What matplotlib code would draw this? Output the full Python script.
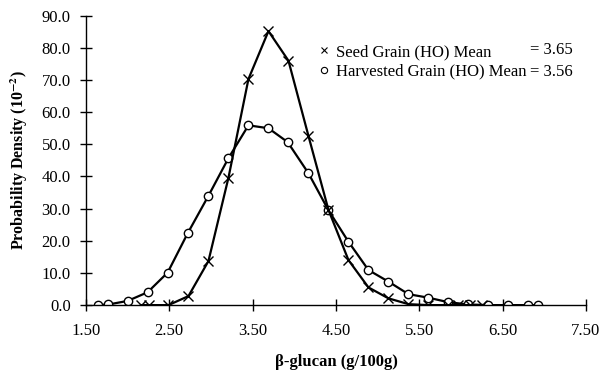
import numpy as np
import matplotlib.pyplot as plt
from matplotlib.lines import Line2D

plt.rcParams['font.family'] = ['Liberation Serif', 'DejaVu Serif']
plt.rcParams['mathtext.fontset'] = 'stix'

# Seed Grain (HO)
seed_x = [2.16, 2.26, 2.49, 2.73, 2.97, 3.21, 3.45, 3.69, 3.93, 4.17, 4.41,
          4.65, 4.89, 5.13, 5.37, 5.61, 5.85, 5.97, 6.11, 6.25]
seed_y = [0.0, 0.0, 0.0, 2.8, 13.7, 39.6, 70.3, 85.2, 76.0, 52.6, 29.6,
          14.0, 5.5, 2.1, 0.3, 0.0, 0.0, 0.0, 0.0, 0.0]

# Harvested Grain (HO)
harv_x = [1.64, 1.77, 2.00, 2.24, 2.48, 2.72, 2.97, 3.21, 3.45, 3.69, 3.92,
          4.17, 4.41, 4.65, 4.89, 5.13, 5.37, 5.61, 5.85, 6.09, 6.33, 6.57,
          6.81, 6.93]
harv_y = [0.0, 0.2, 1.3, 4.0, 10.1, 22.3, 34.0, 45.7, 55.9, 55.0, 50.7,
          41.0, 29.5, 19.7, 10.9, 7.3, 3.4, 2.3, 0.9, 0.2, 0.0, 0.0,
          0.0, 0.0]

fig = plt.figure(figsize=(6.01, 3.73), dpi=100)
ax = fig.add_axes([0.143, 0.182, 0.832, 0.776])

ax.plot(harv_x, harv_y, '-o', color='black', lw=1.6, ms=6,
        mfc='white', mec='black', mew=1.0)
ax.plot(seed_x, seed_y, '-x', color='black', lw=1.6, ms=7, mew=1.0)

ax.set_xlim(1.5, 7.5)
ax.set_ylim(0, 90)
ax.set_xticks(np.arange(1.5, 7.51, 1.0))
ax.set_yticks(np.arange(0, 90.1, 10))
ax.set_xticklabels(['%.2f' % v for v in np.arange(1.5, 7.51, 1.0)])
ax.set_yticklabels(['%.1f' % v for v in np.arange(0, 90.1, 10)])
ax.tick_params(direction='inout', length=8, width=1.0, labelsize=12)
ax.tick_params(axis='y', pad=7)
ax.tick_params(axis='x', pad=9)
for s in ['top', 'right']:
    ax.spines[s].set_visible(False)
for s in ['left', 'bottom']:
    ax.spines[s].set_linewidth(1.0)

ax.set_ylabel(r'Probability Density (10$^{\mathbf{-2}}$)', fontsize=11.5,
              fontweight='bold', labelpad=8)
ax.set_xlabel('β-glucan (g/100g)', fontsize=12, fontweight='bold', labelpad=11)

handles = [Line2D([], [], ls='none', marker='x', color='black', ms=4, mew=0.8),
           Line2D([], [], ls='none', marker='o', mfc='white', mec='black',
                  ms=4.5, mew=0.8)]
ax.legend(handles, ['Seed Grain (HO) Mean', 'Harvested Grain (HO) Mean'],
          loc='upper left', bbox_to_anchor=(0.45, 0.93), frameon=False,
          fontsize=12, handlelength=0.6, handletextpad=0.4, labelspacing=0.2,
          borderpad=0)
ax.text(0.888, 0.882, '= 3.65', transform=ax.transAxes, fontsize=12,
        va='center', ha='left')
ax.text(0.888, 0.807, '= 3.56', transform=ax.transAxes, fontsize=12,
        va='center', ha='left')

fig.savefig('out.png', dpi=100)
